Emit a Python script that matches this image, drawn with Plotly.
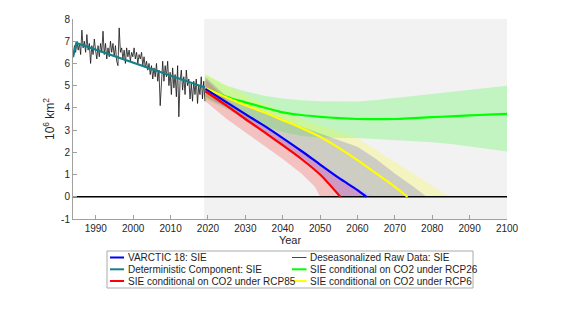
import numpy as np
import plotly.graph_objects as go

# ---------------- data ----------------
raw_vals = [6.3, 6.8, 6.5,
            7.0, 6.6, 6.9,
            6.4, 7.5, 6.7,
            7.0, 6.5, 7.3,
            6.6, 6.9, 6.0,
            6.8, 6.4, 7.1,
            6.6, 6.2, 6.8,
            6.3, 6.9, 6.5,
            7.45, 6.4, 6.9,
            6.2, 6.7, 6.3,
            7.0, 6.5, 6.9,
            6.3, 6.8, 6.1,
            5.9, 7.6, 6.5,
            6.7, 6.2, 6.6,
            6.0, 6.7, 6.3,
            6.6, 6.1, 6.5,
            6.3, 6.7, 6.2,
            6.5, 6.0, 6.4,
            6.2, 6.5, 5.9,
            6.3, 5.8, 6.1,
            5.7, 6.0, 5.5,
            5.9, 5.3, 5.8,
            5.4, 6.0, 5.2,
            5.7, 4.1, 5.4,
            6.1, 5.2, 5.9,
            5.4, 6.1, 5.0,
            5.6, 4.6, 5.8,
            4.9, 5.5, 4.5,
            5.9, 3.6, 5.2,
            5.7, 4.8, 5.4,
            4.6, 5.7, 5.0,
            5.3, 4.4, 5.1,
            4.3, 5.2, 4.6,
            5.3, 4.2, 5.0,
            4.6, 5.4, 4.4,
            5.2, 4.3]
raw_start, raw_end = 1983.95, 2019.2

det_years = [1983.9, 1984.8, 2019.2]
det_vals = [6.28, 6.92, 4.92]

blue_years = [2019.3, 2025, 2030, 2035, 2040, 2045, 2050, 2055, 2060, 2062.4]
blue_vals = [4.85, 4.25, 3.72, 3.2, 2.64, 2.06, 1.45, 0.85, 0.3, 0.0]

red_years = [2019.3, 2025, 2030, 2035, 2040, 2045, 2050, 2055.4]
red_vals = [4.75, 4.1, 3.5, 2.92, 2.32, 1.7, 1.0, 0.0]

yel_years = [2019.3, 2025, 2030, 2035, 2040, 2045, 2050, 2055, 2060, 2065, 2070, 2073.4]
yel_vals = [4.9, 4.47, 4.12, 3.8, 3.45, 3.1, 2.7, 2.2, 1.65, 1.05, 0.45, 0.0]

grn_years = [2019.3, 2025, 2030, 2035, 2040, 2045, 2050, 2055, 2060, 2065, 2070,
             2075, 2080, 2085, 2090, 2095, 2100]
grn_vals = [4.9, 4.5, 4.25, 4.02, 3.8, 3.68, 3.6, 3.54, 3.5, 3.49, 3.5,
            3.54, 3.58, 3.62, 3.66, 3.7, 3.73]

# uncertainty bands
red_band_years = [2019.3, 2025, 2030, 2035, 2040, 2045, 2048.6, 2050, 2055, 2060, 2063]
red_band_up = [5.3, 4.35, 3.78, 3.25, 2.68, 2.1, 1.7, 1.5, 0.9, 0.35, 0.0]
red_band_lo = [4.3, 3.5, 2.9, 2.3, 1.7, 1.05, 0.45, 0.0, 0.0, 0.0, 0.0]

blue_band_years = [2019.3, 2025, 2030, 2035, 2040, 2045, 2050, 2055, 2060, 2065,
                   2070, 2075, 2078.5]
blue_band_up = [5.4, 4.5, 4.15, 3.85, 3.5, 3.15, 2.85, 2.55, 2.25, 1.7, 1.05, 0.45, 0.0]
blue_band_lo = [4.5, 4.02, 3.42, 2.86, 2.27, 1.67, 0.98, 0.05, 0.0, 0.0, 0.0, 0.0, 0.0]

yel_band_years = [2019.3, 2025, 2030, 2035, 2040, 2045, 2050, 2055, 2060, 2064.5,
                  2065, 2070, 2075, 2080, 2084.5]
yel_band_up = [5.55, 5.0, 4.6, 4.2, 3.85, 3.5, 3.2, 2.95, 2.65, 2.17, 2.12, 1.6,
               1.05, 0.5, 0.0]
yel_band_lo = [4.4, 4.25, 3.75, 3.25, 2.7, 2.12, 1.52, 0.92, 0.4, 0.0, 0.0, 0.0,
               0.0, 0.0, 0.0]

grn_band_up = [5.5, 5.0, 4.75, 4.55, 4.42, 4.34, 4.3, 4.28, 4.29, 4.35, 4.44,
               4.54, 4.64, 4.73, 4.82, 4.91, 5.0]
grn_band_lo = [4.4, 3.95, 3.55, 3.2, 2.92, 2.74, 2.67, 2.65, 2.65, 2.6, 2.55,
               2.5, 2.45, 2.37, 2.27, 2.16, 2.04]

x_ticks = [1990, 2000, 2010, 2020, 2030, 2040, 2050, 2060, 2070, 2080, 2090, 2100]
y_ticks = [-1, 0, 1, 2, 3, 4, 5, 6, 7, 8]
y_ticklabels = ["-1", "0", "1", "2", "3", "4", "5", "6", "7", "8"]

legend_labels = ["VARCTIC 18: SIE", "Deterministic Component: SIE",
                 "SIE conditional on CO2 under RCP85",
                 "Deseasonalized Raw Data: SIE",
                 "SIE conditional on CO2 under RCP26",
                 "SIE conditional on CO2 under RCP6"]

# ---------------- figure ----------------
FONT = "Liberation Sans, Arial, sans-serif"
BLUE, TEAL, RED = "rgb(0,0,255)", "rgb(22,128,136)", "rgb(255,0,0)"
GREEN, YELLOW, BLACK = "rgb(0,255,0)", "rgb(255,255,0)", "rgb(20,20,20)"

fig = go.Figure()


def band(years, up, lo, color):
    fig.add_trace(go.Scatter(
        x=list(years) + list(years)[::-1],
        y=list(up) + list(lo)[::-1],
        fill="toself", fillcolor=color, mode="lines",
        line=dict(width=0), hoverinfo="skip", showlegend=False))


band(grn_years, grn_band_up, grn_band_lo, "rgba(0,255,0,0.2)")
band(blue_band_years, blue_band_up, blue_band_lo, "rgba(0,0,255,0.2)")
band(yel_band_years, yel_band_up, yel_band_lo, "rgba(255,255,0,0.2)")
band(red_band_years, red_band_up, red_band_lo, "rgba(255,0,0,0.2)")

x_axis_range = [1983.9, 2100]
fig.add_trace(go.Scatter(x=x_axis_range, y=[0, 0], mode="lines",
                         line=dict(color="black", width=1.5), showlegend=False))

raw_years = np.linspace(raw_start, raw_end, len(raw_vals))
fig.add_trace(go.Scatter(x=raw_years, y=raw_vals, mode="lines",
                         line=dict(color=BLACK, width=0.8), showlegend=False))
fig.add_trace(go.Scatter(x=det_years, y=det_vals, mode="lines",
                         line=dict(color=TEAL, width=2.2), showlegend=False))

for yrs, vals, col in [(grn_years, grn_vals, GREEN), (yel_years, yel_vals, YELLOW),
                       (blue_years, blue_vals, BLUE), (red_years, red_vals, RED)]:
    fig.add_trace(go.Scatter(x=yrs, y=vals, mode="lines",
                             line=dict(color=col, width=2.2, shape="spline",
                                       smoothing=0.8),
                             showlegend=False))

# shaded projection period
fig.add_shape(type="rect", xref="x", yref="paper", x0=2019.0, x1=2100, y0=0, y1=1,
              fillcolor="rgb(242,242,242)", line=dict(width=0), layer="below")

# ---------------- manual legend (MATLAB style, two columns) ----------------
L, W, T, H = 73, 434, 19, 200


def px(xp):
    return (xp - L) / W


def py(yp):
    return (T + H - yp) / H


fig.add_shape(type="rect", xref="paper", yref="paper",
              x0=px(107), x1=px(473), y0=py(288), y1=py(251),
              line=dict(color="rgb(170,170,170)", width=1), fillcolor="white")
rows = [257.5, 269.3, 281]
cols = [(110, 124, 125.5), (292, 306.5, 308)]
styles = [(BLUE, 2), (TEAL, 2), (RED, 2), (BLACK, 0.8), (GREEN, 2), (YELLOW, 2)]
for i, lab in enumerate(legend_labels):
    c = cols[i // 3]
    r = rows[i % 3]
    col, w = styles[i]
    fig.add_shape(type="line", xref="paper", yref="paper",
                  x0=px(c[0]), x1=px(c[1]), y0=py(r), y1=py(r),
                  line=dict(color=col, width=w))
    fig.add_annotation(xref="paper", yref="paper", x=px(c[2]), y=py(r),
                       text=lab, showarrow=False, xanchor="left", yanchor="middle",
                       font=dict(family=FONT, size=10, color="rgb(30,30,30)"))

axis_common = dict(showline=True, linecolor="rgb(160,160,160)", linewidth=1,
                   ticks="inside", ticklen=4, tickcolor="rgb(160,160,160)",
                   showgrid=False, zeroline=False, mirror=False,
                   tickfont=dict(family=FONT, size=10, color="rgb(38,38,38)"))

# page body has an 8px margin: shrink the figure so the plot area lands where
# the reference puts it within the 561x316 window
fig.update_layout(
    width=553, height=308,
    margin=dict(l=65, r=54, t=11, b=97, autoexpand=False),
    paper_bgcolor="white", plot_bgcolor="white",
    showlegend=False,
    xaxis=dict(range=x_axis_range, tickvals=x_ticks,
               title=dict(text="Year", standoff=3,
                          font=dict(family=FONT, size=11, color="rgb(38,38,38)")),
               **axis_common),
    yaxis=dict(range=[-1, 8], tickvals=y_ticks, ticktext=y_ticklabels,
               title=dict(text="10<sup>6</sup> km<sup>2</sup>", standoff=3,
                          font=dict(family=FONT, size=12, color="rgb(38,38,38)")),
               **axis_common),
)

fig.write_html("out.html")
